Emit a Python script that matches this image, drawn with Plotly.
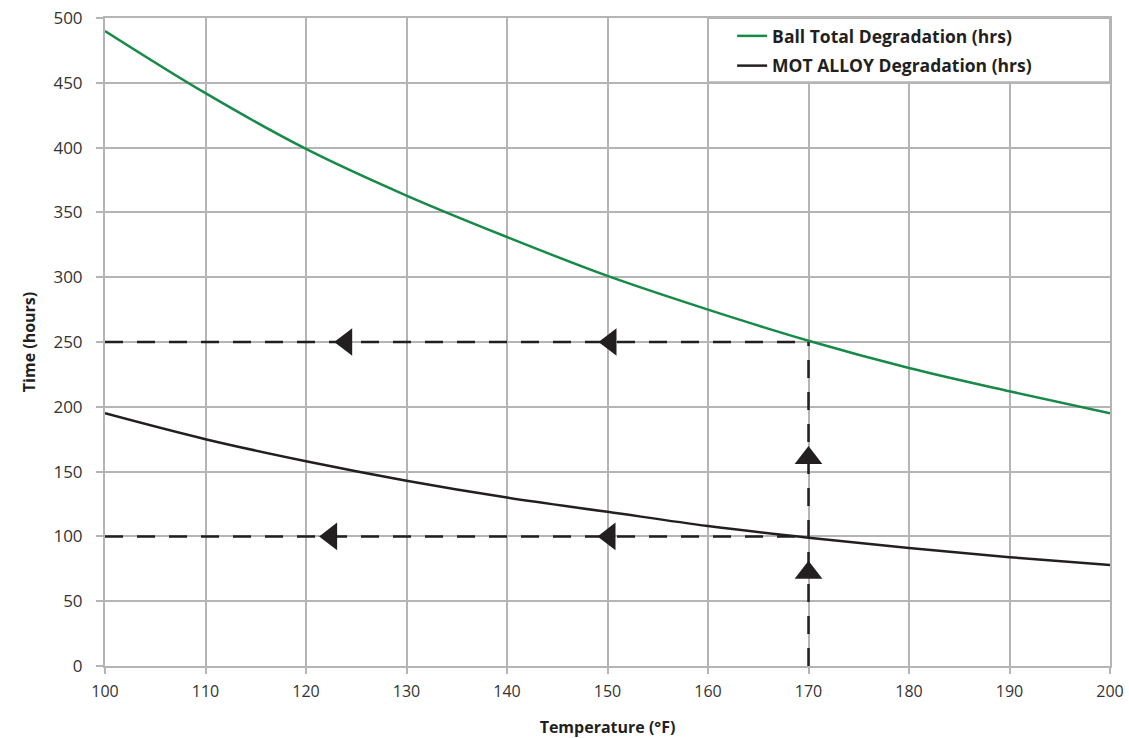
import plotly.graph_objects as go

temps = [100, 110, 120, 130, 140, 150, 160, 170, 180, 190, 200]
ball_hrs = [490, 442, 399, 363, 331, 301, 275, 251, 230, 212, 195]
mot_hrs = [195, 175, 158, 143, 130, 119, 108, 99, 91, 84, 78]

guide_temp = 170
guide_levels = [250, 100]
left_arrow_x = [[124, 150.3], [122.5, 150.2]]
up_arrow_y = [160.5, 72]

x_ticks = list(range(100, 201, 10))
y_ticks = list(range(0, 501, 50))

fig = go.Figure()

grid = "#b4b4b4"
dark = "#231f20"

for lvl in guide_levels:
    fig.add_trace(go.Scatter(x=[100, guide_temp], y=[lvl, lvl], mode="lines",
                             line=dict(color=dark, width=2.5, dash="18px,14px"),
                             showlegend=False, hoverinfo="skip"))
fig.add_trace(go.Scatter(x=[guide_temp, guide_temp], y=[0, guide_levels[0]], mode="lines",
                         line=dict(color=dark, width=2.5, dash="18px,14px"),
                         showlegend=False, hoverinfo="skip"))

fig.add_trace(go.Scatter(x=temps, y=ball_hrs, mode="lines", name="Ball Total Degradation (hrs)",
                         legendgroup="a",
                         line=dict(color="#178a48", width=2.5, shape="spline")))
fig.add_trace(go.Scatter(x=temps, y=mot_hrs, mode="lines", name="MOT ALLOY Degradation (hrs)",
                         legendgroup="b",
                         line=dict(color=dark, width=2.5, shape="spline")))

for lvl, xs in zip(guide_levels, left_arrow_x):
    fig.add_trace(go.Scatter(x=xs, y=[lvl] * len(xs), mode="markers",
                             marker=dict(symbol="triangle-left", size=24, color=dark),
                             showlegend=False, hoverinfo="skip"))
fig.add_trace(go.Scatter(x=[guide_temp] * len(up_arrow_y), y=up_arrow_y, mode="markers",
                         marker=dict(symbol="triangle-up", size=24, color=dark),
                         showlegend=False, hoverinfo="skip"))

# legend frame
fig.add_shape(type="rect", xref="paper", yref="paper", x0=0.6, x1=1.0, y0=0.901, y1=1.0,
              line=dict(color=grid, width=2), fillcolor="white", layer="above")

fig.update_layout(
    width=1129, height=738,
    margin=dict(l=105, r=19, t=18, b=72),
    plot_bgcolor="white", paper_bgcolor="white",
    font=dict(family="Open Sans", color="#333333", size=15),
    legend=dict(x=0.624, y=1.0, xanchor="left", yanchor="top",
                borderwidth=0, bgcolor="rgba(0,0,0,0)",
                font=dict(family="Open Sans", size=17.5, color="#231f20", weight="bold"),
                tracegroupgap=4),
    xaxis=dict(range=[100, 200], tickvals=x_ticks, showgrid=True, gridcolor=grid, gridwidth=2,
               showline=True, linecolor=grid, linewidth=2, mirror=True,
               ticks="outside", ticklen=6, tickcolor=grid, tickwidth=2,
               ticklabelstandoff=4, automargin=False, ticklabeloverflow="allow",
               tickfont=dict(family="Open Sans", size=16, color="#333333"), zeroline=False,
               title=dict(text="<b>Temperature (°F)</b>", font=dict(size=16, color="#231f20"), standoff=22)),
    yaxis=dict(range=[0, 500], tickvals=y_ticks, showgrid=True, gridcolor=grid, gridwidth=2,
               showline=True, linecolor=grid, linewidth=2, mirror=True,
               ticks="outside", ticklen=7, tickcolor=grid, tickwidth=2,
               ticklabelstandoff=10, automargin=False, ticklabeloverflow="allow",
               tickfont=dict(family="Open Sans", size=17, color="#333333"), zeroline=False,
               title=dict(text="<b>Time (hours)</b>", font=dict(size=16, color="#231f20"), standoff=14)),
)

fig.write_html("out.html", config={"displayModeBar": False},
               post_script="document.body.style.margin='0';document.body.style.overflow='hidden';")
